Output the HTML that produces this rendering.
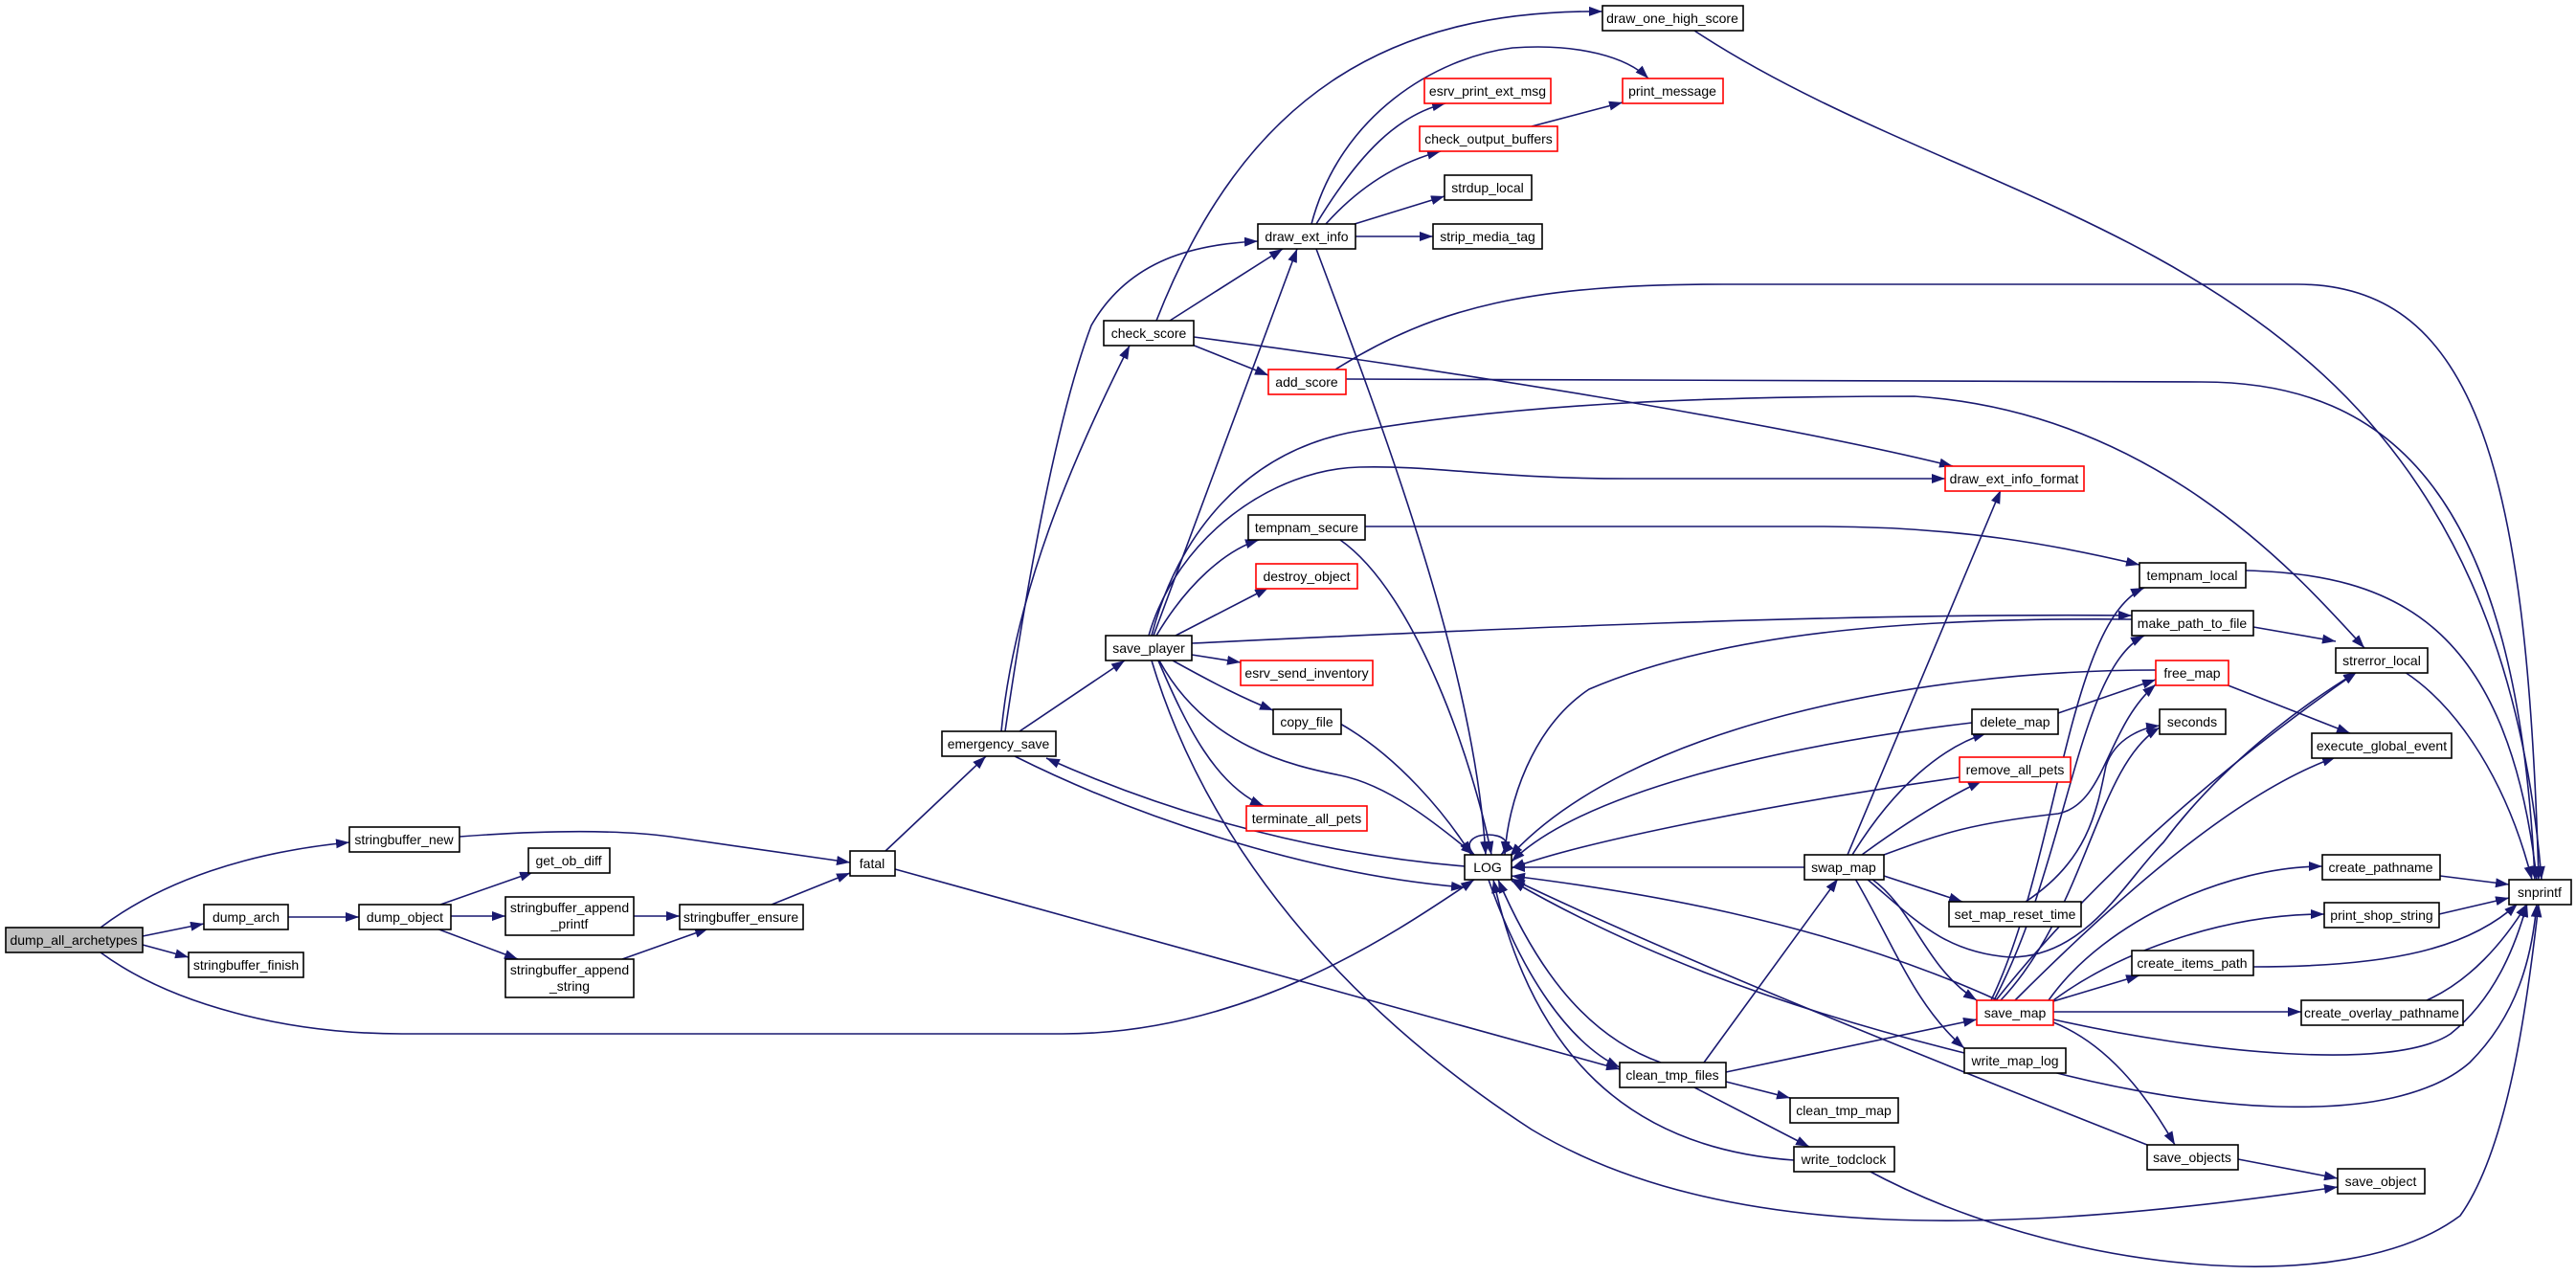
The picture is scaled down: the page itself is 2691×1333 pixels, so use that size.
<!DOCTYPE html>
<html><head><meta charset="utf-8"><style>
html,body{margin:0;padding:0;background:#fff;}
svg{display:block;}
text{font-family:"Liberation Sans",sans-serif;font-size:14px;fill:#000;}
</style></head><body>
<svg width="2691" height="1333" viewBox="0 0 2691 1333" xmlns="http://www.w3.org/2000/svg">
<defs><marker id="a" markerUnits="userSpaceOnUse" markerWidth="16" markerHeight="12" refX="14" refY="5" orient="auto"><path d="M0,0 L14,5 L0,10 z" fill="#191970"/></marker></defs>
<g fill="none" stroke="#191970" stroke-width="1.6" marker-end="url(#a)">
<path d="M105 969 C170 920 260 890 365 880"/>
<path d="M149 978 L213 965"/>
<path d="M149 987 L197 1000"/>
<path d="M105 995 C180 1050 300 1080 420 1080 L1110 1080 C1300 1080 1450 980 1540 919"/>
<path d="M301 958 L375 958"/>
<path d="M460 945 L557 911"/>
<path d="M471 957 L528 957"/>
<path d="M456 970 L541 1002"/>
<path d="M662 957 L710 957"/>
<path d="M650 1002 L740 970"/>
<path d="M480 874 C560 868 640 866 700 874 L888 901"/>
<path d="M806 945 L888 912"/>
<path d="M925 889 L1030 790"/>
<path d="M935 908 L1692 1117"/>
<path d="M1046 764 C1060 620 1120 480 1180 361"/>
<path d="M1065 764 L1175 690"/>
<path d="M1050 764 C1080 560 1110 420 1140 340 C1180 270 1250 255 1314 252"/>
<path d="M1060 790 C1200 860 1380 915 1530 927"/>
<path d="M1530 905 C1350 890 1200 840 1093 792"/>
<path d="M1208 335 C1300 100 1450 10 1674 12"/>
<path d="M1222 335 L1340 260"/>
<path d="M1245 360 L1325 392"/>
<path d="M1247 352 C1500 385 1850 440 2040 487"/>
<path d="M1395 386 C1500 320 1600 297 1800 297 L2400 297 C2590 297 2640 500 2652 919"/>
<path d="M1406 396 C1600 396 1900 399 2300 399 C2500 399 2630 520 2648 919"/>
<path d="M1203 664 C1230 560 1300 470 1420 450 C1600 420 1800 414 2000 414 C2250 430 2400 600 2470 677"/>
<path d="M1200 664 C1230 560 1330 490 1420 488 C1500 486 1560 500 1700 500 L2032 500"/>
<path d="M1205 664 L1355 260"/>
<path d="M1208 664 C1240 610 1280 575 1315 564"/>
<path d="M1228 664 L1325 614"/>
<path d="M1245 684 L1296 692"/>
<path d="M1225 690 C1270 715 1300 730 1330 742"/>
<path d="M1210 690 C1240 760 1270 820 1320 842"/>
<path d="M1211 690 C1260 780 1350 800 1400 810 C1450 820 1500 860 1540 893"/>
<path d="M1245 672 C1500 660 1900 640 2227 643"/>
<path d="M1203 690 C1260 880 1400 1050 1600 1180 C1800 1300 2100 1290 2442 1240"/>
<path d="M1370 234 C1400 120 1500 60 1580 50 C1650 45 1700 60 1722 82"/>
<path d="M1375 234 C1420 160 1460 120 1510 108"/>
<path d="M1385 234 C1420 195 1460 170 1505 158"/>
<path d="M1415 234 L1509 205"/>
<path d="M1416 247 L1497 247"/>
<path d="M1375 260 C1450 460 1540 700 1552 893"/>
<path d="M1600 132 L1695 107"/>
<path d="M1770 32 C2100 250 2600 250 2655 919"/>
<path d="M1426 550 L1900 550 C2050 550 2150 570 2235 590"/>
<path d="M1400 564 C1480 620 1540 800 1558 893"/>
<path d="M1400 756 C1460 790 1510 850 1537 893"/>
<path d="M2346 596 C2500 600 2620 650 2650 919"/>
<path d="M2512 702 C2570 740 2620 820 2645 919"/>
<path d="M2354 655 L2440 670"/>
<path d="M2227 647 C2000 645 1800 660 1660 720 C1600 760 1575 840 1572 893"/>
<path d="M2325 715 L2455 766"/>
<path d="M2252 700 C2000 700 1700 760 1577 895"/>
<path d="M2150 745 L2252 710"/>
<path d="M2060 755 C1850 780 1650 830 1579 900"/>
<path d="M2047 812 C1850 840 1650 880 1579 907"/>
<path d="M1885 906 L1579 906"/>
<path d="M1930 893 L2090 512"/>
<path d="M1935 893 C1980 820 2030 780 2075 766"/>
<path d="M1945 893 C1990 860 2030 835 2070 816"/>
<path d="M1968 893 C2030 870 2060 860 2150 850 C2200 840 2200 760 2252 715"/>
<path d="M2116 942 C2180 900 2190 850 2200 800 C2210 770 2240 760 2256 758"/>
<path d="M1968 915 L2050 942"/>
<path d="M1955 918 C2000 950 2010 1010 2065 1045"/>
<path d="M1938 918 C1980 990 2000 1050 2052 1095"/>
<path d="M1950 918 C2000 960 2030 995 2100 1000 C2180 1000 2220 920 2260 880 C2320 800 2400 740 2462 702"/>
<path d="M2085 1045 C2200 900 2350 780 2462 702"/>
<path d="M2105 1045 C2200 950 2330 830 2440 791"/>
<path d="M2090 1045 C2180 950 2190 800 2256 760"/>
<path d="M2083 1045 C2160 900 2170 700 2240 664"/>
<path d="M2080 1045 C2150 900 2160 650 2240 614"/>
<path d="M2140 1045 C2200 960 2330 905 2426 905"/>
<path d="M2145 1045 C2220 990 2330 955 2428 955"/>
<path d="M2145 1046 L2235 1019"/>
<path d="M2145 1057 L2404 1057"/>
<path d="M2145 1065 C2300 1100 2500 1120 2560 1080 C2610 1040 2630 980 2640 944"/>
<path d="M2145 1068 C2200 1090 2240 1140 2272 1196"/>
<path d="M2087 1045 C1900 960 1700 930 1579 915"/>
<path d="M2549 915 L2621 924"/>
<path d="M2548 955 L2621 938"/>
<path d="M2354 1010 C2500 1010 2580 990 2630 944"/>
<path d="M2535 1045 C2580 1025 2615 985 2640 944"/>
<path d="M2145 1120 C2300 1160 2500 1180 2580 1110 C2630 1060 2645 1000 2650 944"/>
<path d="M2052 1100 C1850 1050 1700 990 1579 920"/>
<path d="M1780 1110 L1920 918"/>
<path d="M1803 1120 L2065 1065"/>
<path d="M1803 1130 L1870 1147"/>
<path d="M1770 1136 L1890 1198"/>
<path d="M1735 1110 C1650 1080 1600 1000 1565 919"/>
<path d="M1555 919 C1590 1020 1640 1090 1692 1115"/>
<path d="M1874 1212 C1700 1200 1600 1100 1560 919"/>
<path d="M1950 1222 C2150 1330 2450 1360 2570 1270 C2620 1200 2640 1050 2652 944"/>
<path d="M2338 1211 L2442 1231"/>
<path d="M2243 1196 C2000 1100 1750 1000 1579 918"/>
<path d="M1540 893 C1515 865 1595 865 1568 893"/>
</g>
<g stroke-width="1.6">
<rect x="6" y="969" width="143" height="26" fill="#bfbfbf" stroke="#000"/>
<rect x="365" y="864" width="115" height="26" fill="#fff" stroke="#000"/>
<rect x="213" y="945" width="88" height="26" fill="#fff" stroke="#000"/>
<rect x="197" y="995" width="120" height="26" fill="#fff" stroke="#000"/>
<rect x="375" y="945" width="96" height="26" fill="#fff" stroke="#000"/>
<rect x="552" y="886" width="85" height="26" fill="#fff" stroke="#000"/>
<rect x="528" y="937" width="134" height="40" fill="#fff" stroke="#000"/>
<rect x="528" y="1002" width="134" height="40" fill="#fff" stroke="#000"/>
<rect x="710" y="945" width="129" height="26" fill="#fff" stroke="#000"/>
<rect x="888" y="889" width="47" height="26" fill="#fff" stroke="#000"/>
<rect x="984" y="764" width="119" height="26" fill="#fff" stroke="#000"/>
<rect x="1153" y="335" width="94" height="26" fill="#fff" stroke="#000"/>
<rect x="1155" y="664" width="90" height="26" fill="#fff" stroke="#000"/>
<rect x="1314" y="234" width="102" height="26" fill="#fff" stroke="#000"/>
<rect x="1674" y="6" width="147" height="26" fill="#fff" stroke="#000"/>
<rect x="1488" y="82" width="132" height="26" fill="#fff" stroke="#f00"/>
<rect x="1695" y="82" width="105" height="26" fill="#fff" stroke="#f00"/>
<rect x="1483" y="132" width="144" height="26" fill="#fff" stroke="#f00"/>
<rect x="1509" y="183" width="91" height="26" fill="#fff" stroke="#000"/>
<rect x="1497" y="234" width="114" height="26" fill="#fff" stroke="#000"/>
<rect x="1325" y="386" width="81" height="26" fill="#fff" stroke="#f00"/>
<rect x="2032" y="487" width="145" height="26" fill="#fff" stroke="#f00"/>
<rect x="1304" y="538" width="122" height="26" fill="#fff" stroke="#000"/>
<rect x="1312" y="589" width="106" height="26" fill="#fff" stroke="#f00"/>
<rect x="1296" y="690" width="138" height="26" fill="#fff" stroke="#f00"/>
<rect x="1330" y="741" width="71" height="26" fill="#fff" stroke="#000"/>
<rect x="1302" y="842" width="126" height="26" fill="#fff" stroke="#f00"/>
<rect x="1530" y="893" width="49" height="26" fill="#fff" stroke="#000"/>
<rect x="2235" y="588" width="111" height="26" fill="#fff" stroke="#000"/>
<rect x="2227" y="638" width="127" height="26" fill="#fff" stroke="#000"/>
<rect x="2440" y="677" width="96" height="26" fill="#fff" stroke="#000"/>
<rect x="2252" y="690" width="76" height="26" fill="#fff" stroke="#f00"/>
<rect x="2060" y="741" width="90" height="26" fill="#fff" stroke="#000"/>
<rect x="2256" y="741" width="69" height="26" fill="#fff" stroke="#000"/>
<rect x="2415" y="766" width="146" height="26" fill="#fff" stroke="#000"/>
<rect x="2047" y="791" width="116" height="26" fill="#fff" stroke="#f00"/>
<rect x="1885" y="893" width="83" height="26" fill="#fff" stroke="#000"/>
<rect x="2426" y="893" width="123" height="26" fill="#fff" stroke="#000"/>
<rect x="2621" y="919" width="65" height="26" fill="#fff" stroke="#000"/>
<rect x="2036" y="942" width="138" height="26" fill="#fff" stroke="#000"/>
<rect x="2428" y="943" width="120" height="26" fill="#fff" stroke="#000"/>
<rect x="2227" y="993" width="127" height="26" fill="#fff" stroke="#000"/>
<rect x="2065" y="1045" width="80" height="26" fill="#fff" stroke="#f00"/>
<rect x="2404" y="1045" width="169" height="26" fill="#fff" stroke="#000"/>
<rect x="2052" y="1095" width="106" height="26" fill="#fff" stroke="#000"/>
<rect x="1692" y="1110" width="111" height="26" fill="#fff" stroke="#000"/>
<rect x="1870" y="1147" width="113" height="26" fill="#fff" stroke="#000"/>
<rect x="1874" y="1198" width="105" height="26" fill="#fff" stroke="#000"/>
<rect x="2243" y="1196" width="95" height="26" fill="#fff" stroke="#000"/>
<rect x="2442" y="1221" width="91" height="26" fill="#fff" stroke="#000"/>
</g>
<g text-anchor="middle">
<text x="77" y="987">dump_all_archetypes</text>
<text x="422" y="882">stringbuffer_new</text>
<text x="257" y="963">dump_arch</text>
<text x="257" y="1013">stringbuffer_finish</text>
<text x="423" y="963">dump_object</text>
<text x="594" y="904">get_ob_diff</text>
<text x="595" y="953">stringbuffer_append</text>
<text x="595" y="970">_printf</text>
<text x="595" y="1018">stringbuffer_append</text>
<text x="595" y="1035">_string</text>
<text x="774" y="963">stringbuffer_ensure</text>
<text x="911" y="907">fatal</text>
<text x="1043" y="782">emergency_save</text>
<text x="1200" y="353">check_score</text>
<text x="1200" y="682">save_player</text>
<text x="1365" y="252">draw_ext_info</text>
<text x="1747" y="24">draw_one_high_score</text>
<text x="1554" y="100">esrv_print_ext_msg</text>
<text x="1747" y="100">print_message</text>
<text x="1555" y="150">check_output_buffers</text>
<text x="1554" y="201">strdup_local</text>
<text x="1554" y="252">strip_media_tag</text>
<text x="1365" y="404">add_score</text>
<text x="2104" y="505">draw_ext_info_format</text>
<text x="1365" y="556">tempnam_secure</text>
<text x="1365" y="607">destroy_object</text>
<text x="1365" y="708">esrv_send_inventory</text>
<text x="1365" y="759">copy_file</text>
<text x="1365" y="860">terminate_all_pets</text>
<text x="1554" y="911">LOG</text>
<text x="2290" y="606">tempnam_local</text>
<text x="2290" y="656">make_path_to_file</text>
<text x="2488" y="695">strerror_local</text>
<text x="2290" y="708">free_map</text>
<text x="2105" y="759">delete_map</text>
<text x="2290" y="759">seconds</text>
<text x="2488" y="784">execute_global_event</text>
<text x="2105" y="809">remove_all_pets</text>
<text x="1926" y="911">swap_map</text>
<text x="2487" y="911">create_pathname</text>
<text x="2653" y="937">snprintf</text>
<text x="2105" y="960">set_map_reset_time</text>
<text x="2488" y="961">print_shop_string</text>
<text x="2290" y="1011">create_items_path</text>
<text x="2105" y="1063">save_map</text>
<text x="2488" y="1063">create_overlay_pathname</text>
<text x="2105" y="1113">write_map_log</text>
<text x="1747" y="1128">clean_tmp_files</text>
<text x="1926" y="1165">clean_tmp_map</text>
<text x="1926" y="1216">write_todclock</text>
<text x="2290" y="1214">save_objects</text>
<text x="2487" y="1239">save_object</text>
</g>
</svg>
</body></html>
